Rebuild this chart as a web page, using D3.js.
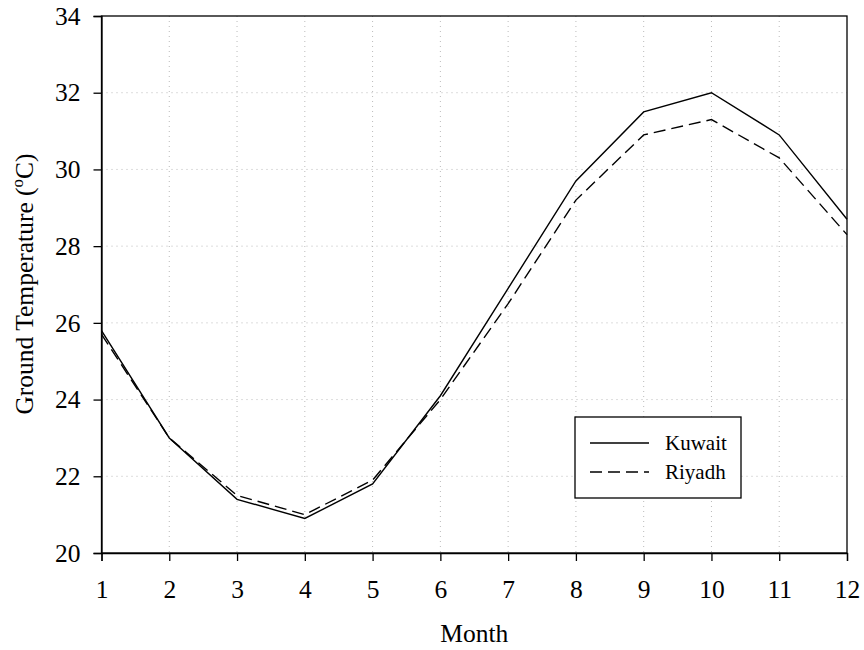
<!DOCTYPE html>
<html>
<head>
<meta charset="utf-8">
<script src="https://cdn.jsdelivr.net/npm/d3@7"></script>
<style>
  body { margin: 0; background: #fff; }
  svg text { font-family: "Liberation Serif", "Times New Roman", serif; fill: #000; }
</style>
</head>
<body>
<svg id="chart"></svg>
<script>
const months = [1, 2, 3, 4, 5, 6, 7, 8, 9, 10, 11, 12];
const kuwait = [25.8, 23.0, 21.4, 20.9, 21.8, 24.1, 26.9, 29.7, 31.5, 32.0, 30.9, 28.7];
const riyadh = [25.7, 23.0, 21.5, 21.0, 21.9, 24.0, 26.5, 29.2, 30.9, 31.3, 30.3, 28.3];
const yTicks = [20, 22, 24, 26, 28, 30, 32, 34];

const width = 864, height = 650;
const margin = { top: 16, right: 17, bottom: 97, left: 101.5 };
const innerW = width - margin.left - margin.right;
const innerH = height - margin.top - margin.bottom;
const fontSize = 25.5;

const svg = d3.select("#chart")
    .attr("width", width)
    .attr("height", height);

const g = svg.append("g")
    .attr("transform", `translate(${margin.left},${margin.top})`);

const x = d3.scaleLinear().domain([1, 12]).range([0, innerW]);
const y = d3.scaleLinear().domain([20, 34]).range([innerH, 0]);

// grid
g.append("g")
    .selectAll("line")
    .data(months.slice(1, -1))
    .join("line")
    .attr("x1", d => x(d)).attr("x2", d => x(d))
    .attr("y1", 0).attr("y2", innerH)
    .attr("stroke", "#bbb").attr("stroke-width", 1)
    .attr("stroke-dasharray", "1,4");

g.append("g")
    .selectAll("line")
    .data(yTicks.slice(1, -1))
    .join("line")
    .attr("x1", 0).attr("x2", innerW)
    .attr("y1", d => y(d)).attr("y2", d => y(d))
    .attr("stroke", "#bbb").attr("stroke-width", 1)
    .attr("stroke-dasharray", "1,4");

// frame
g.append("rect")
    .attr("width", innerW).attr("height", innerH)
    .attr("fill", "none").attr("stroke", "#000").attr("stroke-width", 1.3);

// axes
const xAxis = g.append("g")
    .attr("transform", `translate(0,${innerH})`)
    .call(d3.axisBottom(x).tickValues(months).tickFormat(d3.format("d")).tickSize(8).tickPadding(19));

const yAxis = g.append("g")
    .call(d3.axisLeft(y).tickValues(yTicks).tickSize(8).tickPadding(13));

[xAxis, yAxis].forEach(a => {
    a.attr("font-family", "Liberation Serif").attr("font-size", fontSize);
    a.select(".domain").attr("stroke", "#000").attr("stroke-width", 1.3);
    a.selectAll(".tick line").attr("stroke", "#000").attr("stroke-width", 1.3);
    a.selectAll(".tick text")
        .attr("font-size", fontSize)
        .style("font-family", "'Liberation Serif', serif");
});

// lines
const line = d3.line()
    .x((d, i) => x(months[i]))
    .y(d => y(d));

g.append("path")
    .datum(kuwait)
    .attr("d", line)
    .attr("fill", "none").attr("stroke", "#000").attr("stroke-width", 1.4);

g.append("path")
    .datum(riyadh)
    .attr("d", line)
    .attr("fill", "none").attr("stroke", "#000").attr("stroke-width", 1.4)
    .attr("stroke-dasharray", "12,6");

// axis titles
svg.append("text")
    .attr("x", margin.left + innerW / 2)
    .attr("y", 642)
    .attr("text-anchor", "middle")
    .attr("font-size", fontSize)
    .text("Month");

const yt = svg.append("text")
    .attr("transform", `translate(33,284) rotate(-90)`)
    .attr("text-anchor", "middle")
    .attr("font-size", fontSize);
yt.append("tspan").text("Ground Temperature (");
yt.append("tspan").attr("font-size", 17).attr("dy", -10).text("o");
yt.append("tspan").attr("dy", 10).text("C)");

// legend
const legend = svg.append("g").attr("transform", "translate(575,417)");
legend.append("rect")
    .attr("width", 166).attr("height", 81)
    .attr("fill", "#fff").attr("stroke", "#000").attr("stroke-width", 1.3);

const series = [
    { name: "Kuwait", dash: null },
    { name: "Riyadh", dash: "12,6" }
];
series.forEach((s, i) => {
    const ly = 26 + i * 29;
    legend.append("line")
        .attr("x1", 15).attr("x2", 74)
        .attr("y1", ly).attr("y2", ly)
        .attr("stroke", "#000").attr("stroke-width", 1.4)
        .attr("stroke-dasharray", s.dash);
    legend.append("text")
        .attr("x", 90).attr("y", ly + 7)
        .attr("font-size", 21)
        .text(s.name);
});
</script>
</body>
</html>
